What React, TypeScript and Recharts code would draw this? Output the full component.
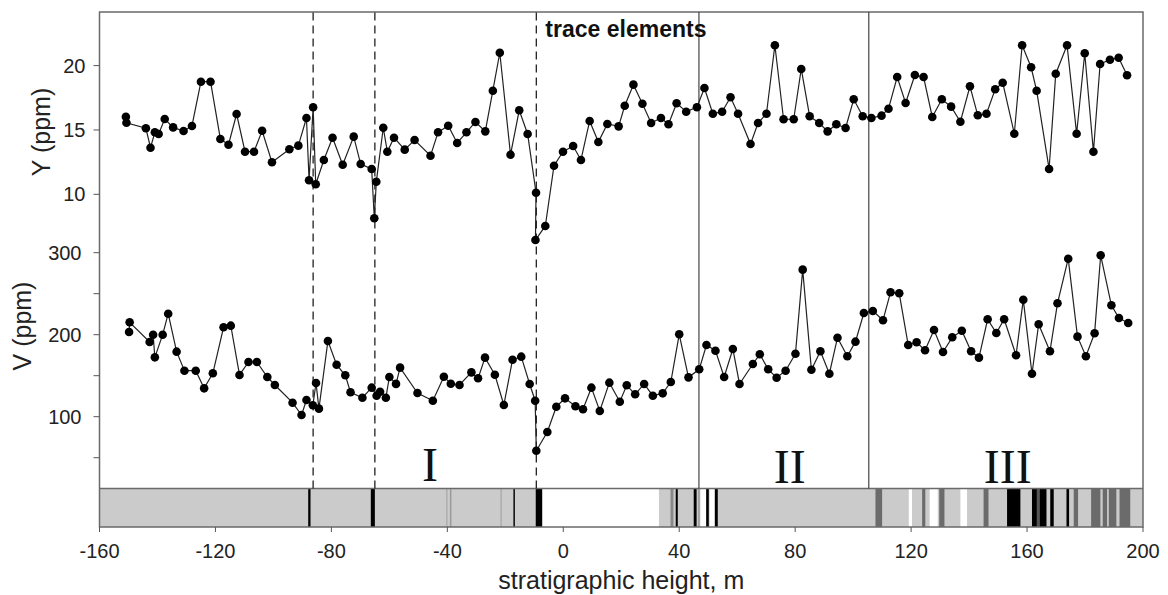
import {
  ComposedChart,
  Line,
  XAxis,
  YAxis,
  ReferenceArea,
  ReferenceLine,
  ReferenceDot,
} from "recharts";

// stratigraphic height (m) and Y concentration (ppm)
const yHeights = [
  -150.9, -150.7, -144.0, -142.4, -140.9, -139.6, -137.5, -134.6, -131.0, -128.1,
  -125.0, -121.7, -118.3, -115.5, -112.7, -109.8, -106.7, -103.9, -100.5, -94.5,
  -91.4, -88.6, -87.7, -86.3, -85.4, -82.6, -79.6, -76.1, -72.3, -69.9,
  -66.1, -65.2, -64.5, -62.1, -60.7, -58.4, -54.7, -51.3, -45.8, -43.2,
  -39.7, -36.6, -33.4, -30.3, -26.9, -24.3, -21.9, -18.2, -15.2, -12.3,
  -9.4, -9.6, -6.2, -3.2, -0.1, 3.4, 6.1, 9.1, 12.1, 15.2,
  19.1, 21.2, 24.2, 27.3, 30.3, 33.7, 36.3, 39.1, 42.4, 46.1,
  48.7, 51.6, 54.8, 57.7, 60.3, 64.6, 67.2, 70.1, 73.0, 76.0,
  79.5, 82.1, 85.0, 88.3, 91.2, 94.2, 97.4, 100.2, 103.3, 106.3,
  109.8, 112.2, 115.2, 118.1, 121.3, 124.3, 127.3, 130.6, 133.8, 137.0,
  140.3, 143.0, 146.0, 149.0, 151.6, 155.6, 158.3, 161.4, 163.3, 167.6,
  169.9, 173.8, 177.1, 179.9, 182.9, 185.2, 188.6, 191.6, 194.5,
];
const yValues = [
  16.03, 15.56, 15.13, 13.62, 14.82, 14.69, 15.85, 15.2, 14.92, 15.31,
  18.75, 18.75, 14.3, 13.85, 16.24, 13.31, 13.31, 14.94, 12.49, 13.5,
  13.78, 15.93, 11.09, 16.76, 10.78, 12.67, 14.4, 12.3, 14.48, 12.35,
  11.97, 8.14, 10.98, 15.17, 13.31, 14.4, 13.47, 14.22, 13.0, 14.82,
  15.33, 13.99, 14.82, 15.62, 14.89, 18.05, 21.0, 13.08, 16.53, 14.69,
  10.12, 6.45, 7.54, 12.22, 13.31, 13.75, 12.67, 15.7, 14.06, 15.46,
  15.28, 16.88, 18.52, 17.04, 15.54, 15.93, 15.44, 17.07, 16.42, 16.76,
  18.26, 16.26, 16.42, 17.54, 16.26, 13.91, 15.54, 16.26, 21.58, 15.83,
  15.83, 19.74, 16.06, 15.54, 14.89, 15.44, 15.15, 17.38, 16.06, 15.93,
  16.11, 16.65, 19.11, 17.09, 19.27, 19.11, 16.01, 17.38, 16.81, 15.64,
  18.39, 16.14, 16.26, 18.16, 18.67, 14.71, 21.58, 19.87, 18.05, 11.97,
  19.37, 21.58, 14.71, 20.96, 13.31, 20.12, 20.46, 20.61, 19.25,
];

// stratigraphic height (m) and V concentration (ppm)
const vHeights = [
  -149.8, -149.6, -142.7, -141.5, -140.9, -138.2, -136.3, -133.4, -130.7, -126.8,
  -123.9, -120.9, -117.2, -114.7, -111.7, -108.6, -105.7, -102.1, -99.5, -93.4,
  -90.3, -88.6, -86.4, -85.3, -84.3, -81.2, -78.2, -75.2, -73.4, -69.3,
  -66.1, -64.4, -63.2, -61.2, -60.0, -57.7, -56.3, -50.3, -45.0, -41.2,
  -38.8, -35.8, -31.7, -29.4, -27.0, -23.6, -20.5, -17.5, -14.5, -11.6,
  -9.7, -9.3, -5.5, -2.4, 0.6, 4.2, 6.8, 9.7, 12.6, 15.9,
  19.5, 21.9, 24.8, 27.9, 30.9, 34.3, 37.1, 40.0, 43.2, 46.9,
  49.4, 52.5, 55.5, 58.5, 60.8, 65.4, 67.8, 70.7, 73.6, 76.7,
  80.1, 82.6, 85.6, 88.7, 91.8, 94.6, 98.0, 100.8, 103.7, 106.8,
  110.3, 112.9, 115.9, 119.0, 121.9, 124.8, 127.9, 131.0, 134.2, 137.5,
  140.7, 143.4, 146.4, 149.4, 152.1, 156.2, 158.7, 161.7, 164.0, 167.9,
  170.5, 174.2, 177.4, 180.3, 183.3, 185.4, 189.1, 191.7, 194.9,
];
const vValues = [
  203.3, 215.1, 191.1, 200, 172.4, 200, 225.6, 179.3, 156.1, 156.1,
  134.6, 152.9, 209, 211, 150.9, 166.7, 166.7, 148.4, 138.7, 117.1,
  102.1, 120.4, 113.9, 141.1, 109.8, 192.3, 163.4, 150.5, 129.8, 123.2,
  135.4, 125.6, 130.5, 123.2, 148.4, 140.0, 159.8, 128.9, 119.5, 148.8,
  140.2, 138.7, 154.1, 146.8, 172, 151.2, 114.3, 169.5, 173.2, 139.9,
  119.5, 58.5, 81.3, 112.2, 122.4, 112.7, 109, 135.4, 107, 141.5,
  118.3, 138.3, 127.3, 139.9, 125.6, 128.5, 142.3, 200.5, 148, 157.8,
  187.4, 180.5, 148.4, 182.6, 139.9, 164.3, 176.1, 157.8, 147.5, 156.1,
  176.8, 279.3, 157.3, 179.8, 152.4, 196.3, 173.7, 191.5, 226.5, 228.9,
  217.6, 251.7, 250.5, 187.4, 190.7, 181, 205.7, 178.9, 196.8, 204.9,
  179.8, 172, 218.8, 202.1, 218.8, 174.9, 242.7, 152.4, 212.7, 179.8,
  238.3, 292.7, 197.6, 173.7, 201.7, 296.8, 235.9, 220.4, 214.3,
];

// lithology strip: band start, band end, shade
const stripFrom = [
  -88.0, -66.4, -40.3, -39.1, -21.6, -17.2, -9.5, -7.2, 37.0, 38.8,
  45.0, 46.6, 47.3, 49.3, 50.5, 52.3, 107.7, 119.2, 123.8, 126.4,
  129.7, 137.0, 145.0, 153.1, 161.7, 163.4, 164.3, 168.0, 173.6, 176.1,
  182.1, 186.1, 188.2, 191.9,
];
const stripTo = [
  -87.2, -65.0, -40.0, -38.6, -21.3, -16.7, -7.2, 33.0, 38.0, 39.5,
  46.0, 47.0, 49.3, 50.2, 52.2, 53.3, 110.0, 120.3, 124.9, 129.2,
  131.5, 139.3, 146.7, 157.7, 163.4, 164.3, 166.7, 169.2, 174.5, 177.6,
  185.3, 187.6, 190.8, 195.6,
];
const stripShade = [
  "#000", "#000", "#999", "#999", "#999", "#000", "#000", "#fff", "#888", "#000",
  "#000", "#888", "#fff", "#000", "#fff", "#000", "#6b6b6b", "#fff", "#6b6b6b", "#fff",
  "#6b6b6b", "#fff", "#6b6b6b", "#000", "#000", "#555", "#000", "#000", "#000", "#6b6b6b",
  "#6b6b6b", "#6b6b6b", "#6b6b6b", "#6b6b6b",
];

const xTicks = [-160, -120, -80, -40, 0, 40, 80, 120, 160, 200];
const yTicks = [10, 15, 20];
const vTicks = [50, 100, 150, 200, 250, 300];
const vLabelled = [100, 200, 300];
const dashedAt = [-86.3, -65.0, -9.3];
const solidAt = [46.8, 105.4];

const Y_DOMAIN = [-15.85, 24.165];
const V_DOMAIN = [-34.5, 593.5];
const S_MAX = 13.38; // strip occupies 0..1

const FONT = "'Liberation Sans', Arial, Helvetica, sans-serif";
const SERIF = "'Liberation Serif', 'Times New Roman', serif";

const yPoints = yHeights.map((x, i) => ({ x, v: yValues[i] }));
const vPoints = vHeights.map((x, i) => ({ x, v: vValues[i] }));

function VTick(props: any) {
  const { x, y, payload } = props;
  return (
    <g>
      <line x1={x - 6} x2={x} y1={y} y2={y} stroke="#555" strokeWidth={1} />
      {vLabelled.includes(payload.value) && (
        <text x={x - 18} y={y} dy={7} textAnchor="end" fontSize={20} fontFamily={FONT} fill="#222">
          {payload.value}
        </text>
      )}
    </g>
  );
}

function AxisTitle(props: any) {
  const { viewBox, text, dx } = props;
  const cx = viewBox.x + dx;
  const cy = viewBox.y;
  return (
    <text
      x={cx}
      y={cy}
      transform={`rotate(-90 ${cx} ${cy})`}
      textAnchor="middle"
      dominantBaseline="central"
      fontSize={25}
      fontFamily={FONT}
      fill="#222"
    >
      {text}
    </text>
  );
}

export default function App() {
  return (
    <div style={{ width: 1160, height: 587 }}>
      <ComposedChart width={1160} height={587} margin={{ top: 4, right: 25, bottom: 0, left: 0 }}>
        <XAxis
          type="number"
          dataKey="x"
          domain={[-160, 200]}
          ticks={xTicks}
          allowDataOverflow
          height={68}
          axisLine={false}
          tickSize={5}
          tickMargin={12}
          tickLine={{ stroke: "#555" }}
          tick={{ fontSize: 20, fontFamily: FONT, fill: "#222" }}
          label={{
            value: "stratigraphic height, m",
            position: "insideBottom",
            offset: 6,
            fontSize: 25,
            fontFamily: FONT,
            fill: "#222",
          }}
        />
        <YAxis
          yAxisId="Y"
          type="number"
          domain={Y_DOMAIN}
          ticks={yTicks}
          allowDataOverflow
          width={91.5}
          axisLine={false}
          tickSize={6}
          tickMargin={8}
          tickLine={{ stroke: "#555" }}
          tick={{ fontSize: 20, fontFamily: FONT, fill: "#222" }}
        />
        <YAxis
          yAxisId="V"
          type="number"
          mirror
          domain={V_DOMAIN}
          ticks={vTicks}
          allowDataOverflow
          axisLine={false}
          tickLine={false}
          tickSize={0}
          tickMargin={0}
          tick={<VTick />}
        />
        <YAxis yAxisId="S" type="number" hide width={0} domain={[0, S_MAX]} allowDataOverflow />

        {/* lithology strip */}
        <ReferenceArea yAxisId="S" x1={-160} x2={200} y1={0} y2={1} fill="#cbcbcb" fillOpacity={1} stroke="none" />
        {stripFrom.map((x1, i) => (
          <ReferenceArea
            key={`b${i}`}
            yAxisId="S"
            x1={x1}
            x2={stripTo[i]}
            y1={0}
            y2={1}
            fill={stripShade[i]}
            fillOpacity={1}
            stroke="none"
          />
        ))}
        <ReferenceLine yAxisId="S" y={1} stroke="#6a6a6a" strokeWidth={1.5} />

        {dashedAt.map((x) => (
          <ReferenceLine
            key={`d${x}`}
            yAxisId="S"
            segment={[{ x, y: 1 }, { x, y: S_MAX }]}
            stroke="#222"
            strokeWidth={1.3}
            strokeDasharray="8 5"
          />
        ))}
        {solidAt.map((x) => (
          <ReferenceLine
            key={`s${x}`}
            yAxisId="S"
            segment={[{ x, y: 1 }, { x, y: S_MAX }]}
            stroke="#444"
            strokeWidth={1.2}
          />
        ))}

        {/* plot frame */}
        <ReferenceArea
          yAxisId="S"
          x1={-160}
          x2={200}
          y1={0}
          y2={S_MAX}
          fill="none"
          stroke="#6a6a6a"
          strokeWidth={1.5}
          ifOverflow="visible"
        />

        <Line
          yAxisId="Y"
          data={yPoints}
          dataKey="v"
          type="linear"
          stroke="#222"
          strokeWidth={1.2}
          dot={{ r: 4.3, fill: "#000", stroke: "#000", strokeWidth: 0 }}
          activeDot={false}
          isAnimationActive={false}
        />
        <Line
          yAxisId="V"
          data={vPoints}
          dataKey="v"
          type="linear"
          stroke="#222"
          strokeWidth={1.2}
          dot={{ r: 4.3, fill: "#000", stroke: "#000", strokeWidth: 0 }}
          activeDot={false}
          isAnimationActive={false}
        />

        {/* annotations */}
        <ReferenceDot
          yAxisId="Y"
          x={21.6}
          y={22.84}
          r={0}
          stroke="none"
          ifOverflow="visible"
          label={{ value: "trace elements", position: "center", fontSize: 23, fontWeight: "bold", fontFamily: FONT, fill: "#111" }}
        />
        <ReferenceDot
          yAxisId="V"
          x={-46}
          y={42.3}
          r={0}
          stroke="none"
          label={{ value: "I", position: "center", fontSize: 48, fontFamily: SERIF, fill: "#111" }}
        />
        <ReferenceDot
          yAxisId="V"
          x={78.1}
          y={39.9}
          r={0}
          stroke="none"
          label={{ value: "II", position: "center", fontSize: 48, fontFamily: SERIF, fill: "#111" }}
        />
        <ReferenceDot
          yAxisId="V"
          x={153.3}
          y={39.9}
          r={0}
          stroke="none"
          label={{ value: "III", position: "center", fontSize: 48, fontFamily: SERIF, fill: "#111" }}
        />
        <ReferenceDot
          yAxisId="Y"
          x={-160}
          y={14.84}
          r={0}
          stroke="none"
          ifOverflow="visible"
          label={<AxisTitle text="Y (ppm)" dx={-58.5} />}
        />
        <ReferenceDot
          yAxisId="V"
          x={-160}
          y={210.6}
          r={0}
          stroke="none"
          ifOverflow="visible"
          label={<AxisTitle text="V (ppm)" dx={-77} />}
        />
      </ComposedChart>
    </div>
  );
}
